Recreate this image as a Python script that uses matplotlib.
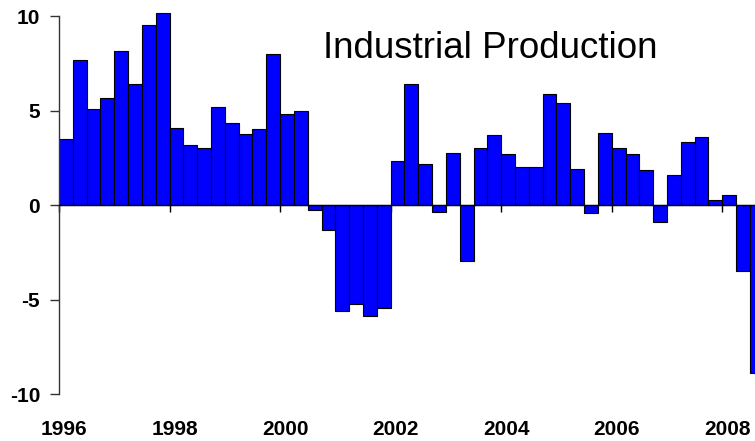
import matplotlib
matplotlib.use("Agg")
import matplotlib.pyplot as plt
import matplotlib.transforms as mtransforms
import numpy as np

# Quarterly industrial production growth, 1996Q1 .. 2008Q3
start_year = 1996
values = [3.50, 7.66, 5.10, 5.66, 8.16, 6.42, 9.51, 10.14,
          4.09, 3.18, 3.01, 5.17, 4.34, 3.76, 4.00, 7.99,
          4.84, 5.00, -0.26, -1.29, -5.60, -5.20, -5.85, -5.43,
          2.34, 6.42, 2.20, -0.37, 2.74, -2.96, 3.01, 3.69,
          2.69, 2.01, 2.01, 5.89, 5.42, 1.92, -0.44, 3.83,
          3.01, 2.69, 1.85, -0.87, 1.59, 3.36, 3.60, 0.28,
          0.52, -3.46, -8.87]
year_ticks = [1996, 1998, 2000, 2002, 2004, 2006, 2008]
year_labels = ["1996", "1998", "2000", "2002", "2004", "2006", "2008"]
y_ticks = [-10, -5, 0, 5, 10]
y_labels = ["-10", "-5", "0", "5", "10"]
title = "Industrial Production"

W, H = 755, 441
fig = plt.figure(figsize=(W / 100, H / 100), dpi=100)
plt.rcParams['font.family'] = ['Liberation Sans', 'DejaVu Sans']

left_px, right_px = 59, 755
top_px, bot_px = 16, 394.3
ax = fig.add_axes([left_px / W, (H - bot_px) / H,
                   (right_px - left_px) / W, (bot_px - top_px) / H])

px_per_year = (722.3 - 59) / 12
x = start_year + np.arange(len(values)) * 0.25
ax.bar(x, values, width=0.25, align='edge', color='#0000FF',
       edgecolor='black', linewidth=0.8, zorder=2)

ax.set_xlim(start_year, start_year + (right_px - left_px) / px_per_year)
ax.set_ylim(-10, 10)

# allow the tallest bar to stick above the top limit
for b in ax.patches:
    b.set_clip_box(mtransforms.TransformedBbox(
        mtransforms.Bbox([[0, -0.1], [1, 1.2]]), ax.transAxes))

for s in ['top', 'right']:
    ax.spines[s].set_visible(False)
ax.spines['left'].set_color('#333333')
ax.spines['left'].set_linewidth(1.0)
ax.spines['bottom'].set_position(('data', 0))
ax.spines['bottom'].set_linewidth(1.0)
ax.spines['bottom'].set_zorder(3)

ax.set_yticks(y_ticks)
ax.set_yticklabels(y_labels, fontsize=15, fontweight='bold')
ax.tick_params(axis='y', direction='out', length=6.5, width=1, pad=7,
               color='#333333')
ax.set_xticks(year_ticks)
ax.tick_params(axis='x', direction='out', length=5, width=1,
               labelbottom=False)

trans = mtransforms.blended_transform_factory(ax.transData, fig.transFigure)
offset = mtransforms.ScaledTranslation(5 / 100, 0, fig.dpi_scale_trans)
for yr, lab in zip(year_ticks, year_labels):
    ax.text(yr, (H - 435) / H, lab, transform=trans + offset,
            ha='center', va='baseline', fontsize=15, fontweight='bold')

fig.text(323 / W, (H - 58) / H, title, ha='left', va='baseline',
         fontsize=26.5)

fig.savefig("out.png", dpi=100)
